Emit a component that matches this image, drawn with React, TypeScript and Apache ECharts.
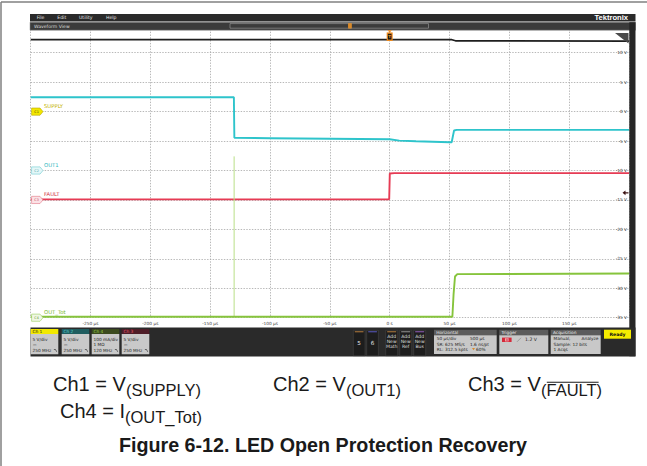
import React, { useEffect, useRef } from 'react';
import * as echarts from 'echarts';

// ---------- axis ticks ----------
const xTickValues = [-250, -200, -150, -100, -50, 0, 50, 100, 150];
const xTickLabels = ['-250 µs', '-200 µs', '-150 µs', '-100 µs', '-50 µs', '0 s', '50 µs', '100 µs', '150 µs'];
const yTickValues = [10, 5, 0, -5, -10, -15, -20, -25, -30, -35];
const yTickLabels = ['10 V', '5 V', '0 V', '-5 V', '-10 V', '-15 V', '-20 V', '-25 V', '-30 V', '-35 V'];

// ---------- channel data (time in µs, value in channel units) ----------
// Ch1 SUPPLY (V), 5 V/div, ground at 0 div
const supplyTime = [-300, 52, 55, 200];
const supplyValue = [12.22, 12.22, 12.02, 11.98];
// Ch2 OUT1 (V), 5 V/div, ground at -2 div
const out1Time = [-300, -130.2, -129.8, -100, -50, 0, 8, 22, 50, 51.8, 53.8, 56, 200];
const out1Value = [12.43, 12.43, 5.55, 5.48, 5.38, 5.3, 5.07, 4.96, 4.8, 4.8, 6.8, 6.9, 6.9];
// Ch3 FAULT (V), 5 V/div, ground at -3 div
const faultTime = [-300, -0.4, 0.1, 4, 200];
const faultValue = [0.1, 0.1, 4.5, 4.55, 4.55];
// Ch4 OUT_Tot (mA), 100 mA/div, ground at -7 div
const outTotTime = [-300, 52.4, 53.4, 54.6, 56.5, 200];
const outTotValue = [3, 3, 80, 140, 148, 150];
const outTotSpikeTime = [-130, -130];
const outTotSpikeValue = [3, 548];

// channel scale (units/div) and ground position (div)
const chScale = { ch1: 5, ch2: 5, ch3: 5, ch4: 100 };
const chGround = { ch1: 0, ch2: -2, ch3: -3, ch4: -7 };

const GL = 30.7, GT = 23.3, GW = 598.3, GH = 294.4;
const toDisp = (v: number, ch: string) => (chGround[ch] + v / chScale[ch]) * 5;
const mk = (ts: number[], vs: number[], ch: string) => ts.map((t, i) => [t, toDisp(vs[i], ch)]);
const xPix = (t: number) => GL + ((t + 300) / 500) * GW;
const yPix = (v: number) => GT + ((15 - v) / 50) * GH;

const UI = '"DejaVu Sans", sans-serif';
const CAP = '"Liberation Sans", Arial, sans-serif';

function txt(x: number, y: number, text: string, size: number, fill: string, o: any = {}) {
  return {
    type: 'text', z: 100, silent: true, x, y,
    style: {
      text, fontSize: size, fontFamily: o.family || UI, fontWeight: o.weight || 'normal', fill,
      align: o.align || 'left', verticalAlign: o.va || 'middle',
    },
  };
}
function rect(x: number, y: number, w: number, h: number, fill: string, stroke?: string, lw?: number) {
  return {
    type: 'rect', z: 99, silent: true, shape: { x, y, width: w, height: h },
    style: { fill, stroke: stroke || null, lineWidth: lw || 0 },
  };
}
function line(x1: number, y1: number, x2: number, y2: number, stroke: string, lw: number) {
  return { type: 'line', z: 100, silent: true, shape: { x1, y1, x2, y2 }, style: { stroke, lineWidth: lw } };
}
function poly(points: number[][], fill: string, stroke?: string) {
  return { type: 'polygon', z: 100, silent: true, shape: { points }, style: { fill, stroke: stroke || null, lineWidth: stroke ? 0.6 : 0 } };
}

function buildGraphic() {
  const g: any[] = [];
  // page frame
  g.push(line(1, 2, 1, 466, '#808080', 1.5));
  g.push(line(1, 2, 647, 2, '#808080', 1.5));

  // menu bar
  g.push(rect(30, 14, 605.5, 7.6, '#2a2a2a'));
  [['File', 36.7], ['Edit', 57.3], ['Utility', 79], ['Help', 106]].forEach(([s, x]) =>
    g.push(txt(x as number, 17.6, s as string, 4.6, '#e4e4e4')));
  g.push(txt(628, 17.5, 'Tektronix', 7.6, '#ffffff', { weight: 'bold', align: 'right', family: CAP }));

  // waveform view bar
  g.push(rect(30, 22.2, 605.5, 8, '#3b3b3b', '#8c8c8c', 0.5));
  g.push(txt(34, 26.2, 'Waveform View', 4.6, '#dcdcdc'));
  g.push({ type: 'rect', z: 100, silent: true, shape: { x: 230, y: 23.6, width: 198.5, height: 4.6 },
    style: { fill: 'none', stroke: '#a0a0a0', lineWidth: 0.6 } });
  g.push(rect(348.2, 23.2, 3.4, 5.2, '#d98a2a'));
  g.push({ ...rect(348.2, 23.2, 3.4, 5.2, '#d98a2a'), z: 101 });

  // right dark strip
  g.push(rect(629.3, 22.2, 6.2, 334, '#262626'));

  // trigger position marker
  const tx = xPix(0);
  g.push(poly([[tx - 2.2, 30.2], [tx + 2.2, 30.2], [tx, 32.4]], '#ee8a1e'));
  g.push(rect(tx - 3, 32.4, 6, 8.6, '#ee8a1e'));
  g.push({ ...rect(tx - 1.8, 33.8, 3.6, 5.8, '#1a1a1a'), z: 100 });
  g.push(txt(tx, 36.8, 'T', 4, '#ee8a1e', { align: 'center', weight: 'bold' }));

  // top right off-screen indicator
  g.push(poly([[615, 33], [628.5, 33], [628.5, 43.5]], '#4a4a4a'));

  // trigger level arrow (Ch3, 1.2 V)
  const ty = yPix(toDisp(1.2, 'ch3'));
  g.push(poly([[622.5, ty], [625.5, ty - 2.4], [625.5, ty + 2.4]], '#3a1010'));
  g.push(line(625, ty, 628.5, ty, '#3a1010', 1.2));

  // channel ground markers + labels
  const markers = [
    { id: 'C1', ch: 'ch1', fill: '#f2e600', stroke: '#b5a600', tc: '#3a3a00', label: 'SUPPLY', lc: '#c4b300' },
    { id: 'C2', ch: 'ch2', fill: '#e4f7f8', stroke: '#6ccad0', tc: '#3b9ca2', label: 'OUT1', lc: '#2fb6be' },
    { id: 'C3', ch: 'ch3', fill: '#fbe2e6', stroke: '#e27585', tc: '#c04050', label: 'FAULT', lc: '#cf3446' },
    { id: 'C4', ch: 'ch4', fill: '#eff7e4', stroke: '#98cc5c', tc: '#5f9428', label: 'OUT_Tot', lc: '#76b52a' },
  ];
  markers.forEach((m) => {
    const y = yPix(toDisp(0, m.ch));
    g.push(poly([[31.6, y - 3.6], [40, y - 3.6], [43, y], [40, y + 3.6], [31.6, y + 3.6]], m.fill, m.stroke));
    g.push(txt(36.6, y + 0.2, m.id, 3.4, m.tc, { align: 'center' }));
    g.push(txt(44, y - 5.6, m.label, 5.3, m.lc));
  });

  // bottom dark panel
  g.push(rect(30.5, 327.5, 605, 29, '#2a2a2a'));

  // channel badges
  const badges = [
    { name: 'Ch 1', x: 30.7, head: '#f2e900', hc: '#1a1a1a', lines: ['5 V/div', '⎓', '250 MHz'] },
    { name: 'Ch 2', x: 61.7, head: '#1f5d5f', hc: '#5cd2d6', lines: ['5 V/div', '⎓', '250 MHz'] },
    { name: 'Ch 4', x: 91.7, head: '#3b4a1e', hc: '#9ad04a', lines: ['100 mA/div', '1 MΩ', '120 MHz'] },
    { name: 'Ch 3', x: 121.7, head: '#4e1d27', hc: '#e2586b', lines: ['5 V/div', '⎓', '250 MHz'] },
  ];
  badges.forEach((b) => {
    g.push(rect(b.x, 329, 27.6, 5, b.head));
    g.push(txt(b.x + 1.8, 331.6, b.name, 4.3, b.hc));
    g.push(rect(b.x, 334, 27.6, 20.3, '#c9c9c9'));
    g.push(txt(b.x + 1.8, 339, b.lines[0], 4.3, '#1e1e1e'));
    g.push(txt(b.x + 1.8, 344.4, b.lines[1], 4.3, '#1e1e1e'));
    g.push(txt(b.x + 1.8, 350.6, b.lines[2], 4.3, '#1e1e1e'));
    g.push({ type: 'polyline', z: 100, silent: true,
      shape: { points: [[b.x + 23.2, 349.5], [b.x + 24.8, 349.5], [b.x + 26, 351.8]] },
      style: { stroke: '#1e1e1e', lineWidth: 0.6, fill: 'none' } });
  });

  // 5 / 6 buttons
  [{ l: '5', x: 353.3, bar: '#a8743a' }, { l: '6', x: 366.7, bar: '#5454b4' }].forEach((b) => {
    g.push(rect(b.x, 330.3, 11.7, 25.5, '#1d1d1d', '#4a4a4a', 0.5));
    g.push({ ...rect(b.x + 1.5, 331.2, 8.7, 1.1, b.bar), z: 100 });
    g.push(txt(b.x + 5.85, 342.8, b.l, 5.6, '#e8e8e8', { align: 'center' }));
  });
  // add new buttons
  [{ l: 'Math', x: 385.7, bar: '#a8743a' }, { l: 'Ref', x: 399.7, bar: '#8a8a8a' }, { l: 'Bus', x: 413.7, bar: '#8a58b0' }].forEach((b) => {
    g.push(rect(b.x, 330.3, 12, 25.5, '#1d1d1d', '#4a4a4a', 0.5));
    g.push({ ...rect(b.x + 1.5, 331.2, 9, 1.1, b.bar), z: 100 });
    g.push(txt(b.x + 6, 336.4, 'Add', 4.6, '#dedede', { align: 'center' }));
    g.push(txt(b.x + 6, 341.3, 'New', 4.6, '#dedede', { align: 'center' }));
    g.push(txt(b.x + 6, 346.3, b.l, 4.6, '#dedede', { align: 'center' }));
  });

  // info panels
  const panels = [
    { t: 'Horizontal', x: 434, w: 62.7 },
    { t: 'Trigger', x: 499.3, w: 49 },
    { t: 'Acquisition', x: 550.7, w: 50 },
  ];
  panels.forEach((p) => {
    g.push(rect(p.x, 329.8, p.w, 5.4, '#5c5c5c'));
    g.push(txt(p.x + 2.2, 332.6, p.t, 4.3, '#eeeeee'));
    g.push(rect(p.x, 335.2, p.w, 18.9, '#c8c8c8'));
  });
  const pc = '#1e1e1e';
  g.push(txt(436.7, 338.8, '50 µs/div', 4.3, pc));
  g.push(txt(470, 338.8, '500 µs', 4.3, pc));
  g.push(txt(436.7, 344.1, 'SR: 625 MS/s', 4.3, pc));
  g.push(txt(470, 344.1, '1.6 ns/pt', 4.3, pc));
  g.push(txt(436.7, 349.4, 'RL: 312.5 kpts', 4.3, pc));
  g.push(poly([[472, 347.9], [475, 347.9], [473.5, 350.2]], '#d98a2a'));
  g.push(txt(476, 349.4, '60%', 4.3, pc));

  g.push(rect(502, 337.6, 9.6, 4.4, '#d42a3a'));
  g.push({ ...rect(505, 338.2, 3.6, 3.2, '#f4a6b0'), z: 100 });
  g.push(txt(506.8, 339.9, '3', 3.2, '#d42a3a', { align: 'center', weight: 'bold' }));
  g.push(line(517, 341.8, 521, 337.8, '#7a7a7a', 0.6));
  g.push(txt(525, 339.8, '1.2 V', 4.6, pc));

  g.push(txt(553.5, 338.8, 'Manual,', 4.3, pc));
  g.push(txt(598.5, 338.8, 'Analyze', 4.3, pc, { align: 'right' }));
  g.push(txt(553.5, 344.1, 'Sample: 12 bits', 4.3, pc));
  g.push(txt(553.5, 349.4, '1 Acqs', 4.3, pc));

  g.push(rect(604, 329.7, 27, 9, '#f5ec00'));
  g.push(txt(617.5, 334.3, 'Ready', 4.6, '#111111', { align: 'center', weight: 'bold' }));

  // caption
  const cf = '#1a1a1a';
  g.push(txt(53, 384, 'Ch1 = V', 20, cf, { family: CAP }));
  g.push(txt(126, 390, '(SUPPLY)', 16.5, cf, { family: CAP }));
  g.push(txt(273, 384, 'Ch2 = V', 20, cf, { family: CAP }));
  g.push(txt(346, 390, '(OUT1)', 16.5, cf, { family: CAP }));
  g.push(txt(468, 384, 'Ch3 = V', 20, cf, { family: CAP }));
  g.push(txt(541, 390, '(FAULT)', 16.5, cf, { family: CAP }));
  g.push(line(546.8, 382.3, 598.6, 382.3, cf, 1.1));
  g.push(txt(60, 411, 'Ch4 = I', 20, cf, { family: CAP }));
  g.push(txt(125, 417, '(OUT_Tot)', 16.5, cf, { family: CAP }));
  g.push(txt(323, 445, 'Figure 6-12. LED Open Protection Recovery', 19.7, cf, { family: CAP, weight: 'bold', align: 'center' }));
  return g;
}

const xLabelMap: Record<string, string> = {};
xTickValues.forEach((v, i) => { xLabelMap[String(v)] = xTickLabels[i]; });
const yLabelMap: Record<string, string> = {};
yTickValues.forEach((v, i) => { yLabelMap[String(v)] = yTickLabels[i]; });

const gridLine = { show: true, lineStyle: { color: '#a6a6a6', width: 0.8, type: [1.4, 1.4] } };

export default function App() {
  const ref = useRef<HTMLDivElement>(null);
  useEffect(() => {
    const chart = echarts.init(ref.current!, null, { renderer: 'svg' });
    const ln = (data: number[][], color: string, width: number) => ({
      type: 'line', data, showSymbol: false, symbol: 'none', silent: true,
      lineStyle: { color, width }, itemStyle: { color }, z: 3,
    });
    chart.setOption({
      animation: false,
      backgroundColor: '#ffffff',
      grid: { left: GL, top: GT, width: GW, height: GH, show: false },
      xAxis: {
        type: 'value', min: -300, max: 200, interval: 50,
        axisLine: { show: false }, axisTick: { show: false },
        splitLine: gridLine,
        axisLabel: {
          margin: 3.5, fontSize: 4.3, color: '#444', fontFamily: UI,
          formatter: (v: number) => xLabelMap[String(v)] || '',
        },
      },
      yAxis: {
        type: 'value', position: 'right', min: -35, max: 15, interval: 5,
        axisLine: { show: false }, axisTick: { show: false },
        splitLine: gridLine,
        axisLabel: {
          inside: true, margin: 2, fontSize: 4.3, color: '#333', fontFamily: UI,
          showMinLabel: true, showMaxLabel: true,
          formatter: (v: number) => yLabelMap[String(v)] || '',
        },
      },
      series: [
        ln(mk(out1Time, out1Value, 'ch2'), '#2ec4cb', 1.9),
        ln(mk(faultTime, faultValue, 'ch3'), '#e63b54', 1.9),
        ln(mk(outTotSpikeTime, outTotSpikeValue, 'ch4'), '#b9df86', 1),
        ln(mk(outTotTime, outTotValue, 'ch4'), '#86c43c', 1.9),
        ln(mk(supplyTime, supplyValue, 'ch1'), '#1e1e1e', 1.6),
      ],
      graphic: buildGraphic(),
    });
    return () => chart.dispose();
  }, []);
  return (
    <div
      ref={ref}
      style={{ position: 'fixed', left: 0, top: 0, width: 647, height: 466, background: '#fff' }}
    />
  );
}
